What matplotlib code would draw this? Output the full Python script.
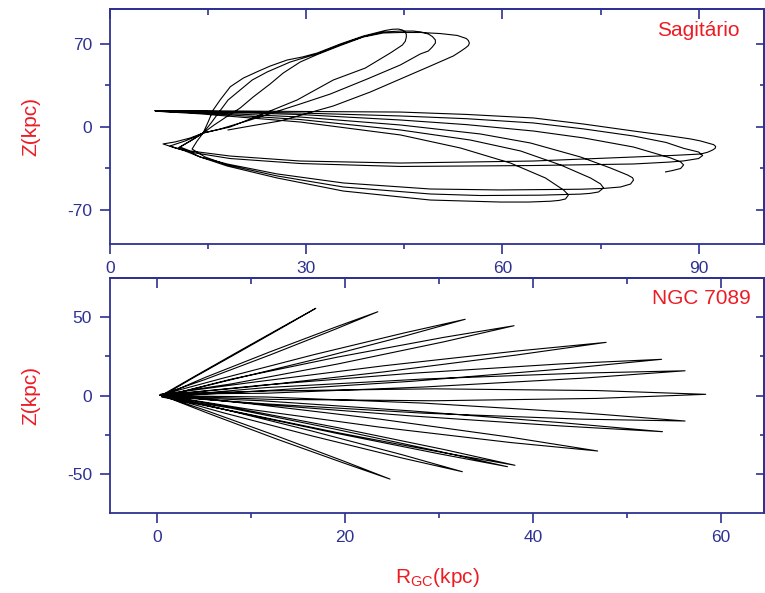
import matplotlib
matplotlib.use('Agg')
import matplotlib.pyplot as plt

plt.rcParams['font.family'] = ['Liberation Sans', 'DejaVu Sans']
plt.rcParams['mathtext.fontset'] = 'custom'
plt.rcParams['mathtext.rm'] = 'Liberation Sans'
plt.rcParams['axes.unicode_minus'] = False

NAVY = '#2E3192'
RED = '#ED1C24'

# Sagitário orbit in the meridional plane (R, Z) in kpc
sgr_r = [84.95, 86.03, 87.25, 87.71, 87.25, 85.72, 80.05, 72.4, 64.75, 54.5, 44.39, 29.08, 13.78, 7.65, 6.89,
         7.65, 13.78, 29.08, 44.39, 53.57, 61.23, 66.58, 69.34, 70.10, 69.65, 68.7, 67.35, 64.0, 59.70,
         48.98, 35.66, 25.56, 17.91, 13.78, 11.63, 10.41,
         11.48, 13.01, 14.24, 15.00, 15.77, 16.84, 18.40, 20.40, 22.50, 24.49, 27.09, 29.39, 31.69,
         35.21, 38.73, 42.09, 43.17, 44.08, 44.70, 45.15, 45.31, 45.31, 45.15, 44.70, 42.86, 39.03,
         34.13, 28.62, 22.96, 18.37, 14.24, 12.25, 9.95, 8.11,
         9.95, 13.01, 18.37, 29.08, 44.39, 64.75, 80.05, 85.5, 87.71, 90.00, 90.62, 90.00, 87.71,
         85.0, 80.05, 72.4, 64.75, 54.5, 44.39, 29.08, 13.78, 7.65, 6.89,
         7.65, 13.78, 29.08, 44.39, 55.10, 62.76, 68.88, 73.47, 75.0, 75.46, 74.70, 73.4, 71.94,
         65.82, 56.64, 48.98, 35.66, 25.56, 17.91, 14.54, 12.55,
         13.32, 14.24, 15.46, 16.68, 18.06, 19.90, 21.74, 24.03, 27.55, 31.69, 35.21, 38.73, 41.79,
         44.39, 46.38, 47.60, 48.68, 49.29, 49.75, 49.75, 49.29, 48.68, 47.45, 44.39, 39.34, 33.68,
         29.08, 21.43, 16.84, 14.24, 12.55, 10.71,
         12.25, 18.37, 29.08, 44.39, 64.75, 80.05, 86.0, 90.31, 91.37, 92.15, 92.53, 92.61, 92.30,
         91.53, 90.31, 88.78, 85.0, 80.05, 72.4, 64.75, 54.5, 44.39, 29.08, 13.78, 7.65, 6.89,
         7.65, 13.78, 29.08, 44.39, 56.64, 64.29, 71.94, 76.53, 79.14, 79.9, 80.05, 79.60, 78.06,
         75.5, 71.94, 59.70, 48.98, 35.66, 25.56, 17.91, 13.78, 11.48, 9.18,
         11.48, 13.32, 14.24, 15.92, 17.76, 19.90, 21.89, 24.49, 26.48, 29.08, 31.69, 35.21, 38.73,
         41.79, 44.39, 47.45, 50.51, 53.11, 54.49, 54.80, 54.95, 54.80, 54.34, 53.57, 52.50, 48.98,
         44.39, 39.80, 34.13, 26.02, 21.43, 18.06]
sgr_z = [-37.9, -36.7, -35.0, -32.0, -29.5, -26.1, -16.9, -9.2, -3.4, 2.0, 5.9, 10.5, 13.0, 13.6, 13.7,
         13.1, 11.1, 4.2, -6.7, -17.7, -30.4, -43.0, -53.1, -57.3, -60.7, -61.9, -62.6, -63.3, -63.3,
         -61.6, -54.0, -43.0, -32.9, -25.3, -19.4, -17.7,
         -14.3, -9.3, -5.1, 4.2, 14.3, 22.8, 34.0, 41.3, 46.6, 51.4, 56.5, 59.0, 62.4,
         70.0, 76.7, 81.4, 82.4, 82.6, 81.8, 80.1, 78.0, 75.9, 72.3, 69.1, 62.4, 49.7,
         39.6, 22.8, 10.1, 0.0, -5.1, -9.3, -12.6, -14.3,
         -17.7, -21.9, -26.6, -30.8, -33.3, -32.5, -31.2, -29.6, -28.6, -26.6, -24.0, -21.1, -18.0,
         -13.0, -7.6, -1.6, 3.4, 7.0, 9.3, 11.8, 13.3, 13.7, 13.7,
         13.2, 11.8, 6.3, -2.5, -11.0, -20.2, -32.0, -43.0, -48.0, -51.4, -54.8, -56.0, -56.6,
         -57.5, -57.8, -56.5, -50.6, -41.3, -32.0, -25.3, -18.6,
         -11.8, -5.1, 3.4, 12.6, 22.8, 31.2, 39.6, 46.4, 54.8, 61.7, 69.4, 76.2, 80.1,
         80.9, 80.9, 80.1, 78.4, 76.3, 73.4, 70.8, 67.5, 64.1, 61.6, 52.3, 40.5, 27.8,
         19.4, 5.9, -1.7, -5.1, -11.0, -16.9,
         -20.2, -24.5, -28.7, -30.4, -28.7, -25.3, -24.0, -22.8, -21.3, -19.4, -18.0, -16.4, -14.9,
         -13.7, -11.8, -10.1, -7.0, -3.4, 2.5, 7.6, 10.6, 12.6, 13.1, 13.7, 13.8, 13.7,
         13.3, 12.4, 8.4, 1.7, -5.9, -13.5, -25.3, -34.6, -40.5, -42.8, -44.7, -48.1, -50.6,
         -51.8, -52.5, -53.1, -52.3, -47.2, -39.6, -31.2, -25.3, -20.2, -16.0,
         -11.8, -7.6, -5.1, 1.7, 8.4, 16.0, 25.3, 36.3, 45.5, 54.8, 61.1, 68.7, 75.9,
         79.3, 79.7, 79.7, 78.8, 77.2, 74.6, 72.9, 70.8, 68.7, 66.6, 63.7, 59.9, 51.4,
         40.5, 29.5, 17.7, 5.1, 0.8, -2.5]

# NGC 7089 orbit in the meridional plane (R, Z) in kpc
ngc_r = [0.5,
         3.78, 8.70, 13.62, 16.9, 13.62, 8.70, 3.78, 0.6,
         5.10, 12.0, 18.9, 23.5, 18.9, 12.0, 5.10, 0.4,
         6.96, 16.65, 26.34, 32.8, 26.34, 16.65, 6.96, 0.7,
         8.0, 19.25, 30.5, 38.0, 30.5, 19.25, 8.0, 0.5,
         9.96, 24.15, 38.34, 47.8, 38.34, 24.15, 9.96, 0.3,
         11.14, 27.1, 43.06, 53.7, 43.06, 27.1, 11.14, 0.6,
         11.64, 28.35, 45.06, 56.2, 45.06, 28.35, 11.64, 0.4,
         12.08, 29.45, 46.82, 58.4, 46.82, 29.45, 12.08, 0.8,
         11.64, 28.35, 45.06, 56.2, 45.06, 28.35, 11.64, 0.5,
         11.16, 27.15, 43.14, 53.8, 43.14, 27.15, 11.16, 0.3,
         9.78, 23.7, 37.62, 46.9, 37.62, 23.7, 9.78, 0.6,
         8.02, 19.3, 30.58, 38.1, 30.58, 19.3, 8.02, 0.5,
         7.86, 18.9, 29.94, 37.3, 29.94, 18.9, 7.86, 0.4,
         6.9, 16.5, 26.1, 32.5, 26.1, 16.5, 6.9, 0.7,
         5.36, 12.65, 19.94, 24.8, 19.94, 12.65, 5.36, 0.5]
ngc_z = [0.3,
         11.6, 28.3, 44.8, 55.7, 44.4, 27.7, 11.15, 0.0,
         11.6, 27.9, 43.5, 53.5, 42.2, 25.9, 10.3, 0.5,
         11.1, 26.1, 40.06, 48.7, 37.98, 22.9, 8.86, -0.3,
         10.7, 24.65, 37.17, 44.6, 34.31, 20.25, 7.62, 0.8,
         8.4, 19.1, 28.5, 34.0, 26.0, 15.2, 5.7, 0.2,
         6.7, 14.3, 20.3, 23.2, 17.0, 9.2, 3.1, -0.6,
         5.2, 10.65, 14.4, 15.9, 11.1, 5.55, 1.6, 1.0,
         3.1, 4.4, 3.3, 0.9, -1.7, -3.2, -2.3, 0.0,
         -0.8, -4.7, -10.8, -16.1, -14.9, -11.1, -5.2, -0.4,
         -3.2, -9.7, -17.2, -22.9, -19.3, -12.9, -5.5, 0.6,
         -5.0, -14.9, -26.4, -35.2, -29.8, -20.0, -8.6, 0.2,
         -7.5, -20.4, -34.3, -44.3, -36.4, -23.6, -9.7, -0.8,
         -7.9, -21.2, -35.3, -45.2, -36.9, -23.7, -9.7, 0.4,
         -8.3, -22.5, -37.6, -48.4, -39.7, -25.6, -10.6, -0.2,
         -9.7, -25.4, -41.8, -53.1, -43.0, -27.4, -11.0, 0.3]

sgr_xticks = [0, 30, 60, 90]
sgr_xminor = [15, 45, 75]
sgr_yticks = [-70, 0, 70]
sgr_yminor = [-35, 35]
ngc_xticks = [0, 20, 40, 60]
ngc_xminor = [10, 30, 50]
ngc_yticks = [-50, 0, 50]
ngc_yminor = [-25, 25]


def style_axes(ax, xt, xm, yt, ym):
    ax.set_xticks(xt)
    ax.set_xticks(xm, minor=True)
    ax.set_yticks(yt)
    ax.set_yticks(ym, minor=True)
    ax.tick_params(which='both', direction='out', color=NAVY, labelcolor=NAVY,
                   width=1.2, labelsize=12.5, top=False, right=False)
    ax.tick_params(which='major', length=7)
    ax.tick_params(which='minor', length=3.5)
    ax.tick_params(axis='y', pad=6)
    ax.tick_params(axis='x', pad=5)
    for sp in ax.spines.values():
        sp.set_color(NAVY)
        sp.set_linewidth(1.3)
    # mirrored ticks pointing inward on top and right
    top = ax.secondary_xaxis('top')
    top.set_xticks(xt)
    top.set_xticks(xm, minor=True)
    top.tick_params(which='both', direction='in', color=NAVY, width=1.2,
                    labeltop=False, labelbottom=False)
    top.tick_params(which='major', length=7)
    top.tick_params(which='minor', length=4)
    top.spines['top'].set_color(NAVY)
    top.spines['top'].set_linewidth(1.3)
    right = ax.secondary_yaxis('right')
    right.set_yticks(yt)
    right.set_yticks(ym, minor=True)
    right.tick_params(which='both', direction='in', color=NAVY, width=1.2,
                      labelright=False, labelleft=False)
    right.tick_params(which='major', length=6)
    right.tick_params(which='minor', length=3)
    right.spines['right'].set_color(NAVY)
    right.spines['right'].set_linewidth(1.3)


fig = plt.figure(figsize=(7.65, 5.93), dpi=100)
ax1 = fig.add_axes([0.1438, 0.5885, 0.8549, 0.3963])
ax2 = fig.add_axes([0.1438, 0.1341, 0.8549, 0.3971])

ax1.plot(sgr_r, sgr_z, color='black', lw=0.8)
ax1.set_xlim(0, 100)
ax1.set_ylim(-98.7, 99.5)
style_axes(ax1, sgr_xticks, sgr_xminor, sgr_yticks, sgr_yminor)
ax1.set_ylabel('Z(kpc)', color=RED, fontsize=15)
ax1.yaxis.set_label_coords(-0.106, 0.5)
ax1.text(0.963, 0.91, 'Sagitário', transform=ax1.transAxes, ha='right', va='center',
         color=RED, fontsize=15)

ax2.plot(ngc_r, ngc_z, color='black', lw=0.8)
ax2.set_xlim(-5, 64.6)
ax2.set_ylim(-75, 75)
style_axes(ax2, ngc_xticks, ngc_xminor, ngc_yticks, ngc_yminor)
ax2.set_ylabel('Z(kpc)', color=RED, fontsize=15)
ax2.yaxis.set_label_coords(-0.106, 0.5)
ax2.set_xlabel(r'$\mathregular{R_{GC}}$(kpc)', color=RED, fontsize=15)
ax2.xaxis.set_label_coords(0.5, -0.222)
ax2.text(0.979, 0.915, 'NGC 7089', transform=ax2.transAxes, ha='right', va='center',
         color=RED, fontsize=15)

fig.savefig('out.png', dpi=100)
